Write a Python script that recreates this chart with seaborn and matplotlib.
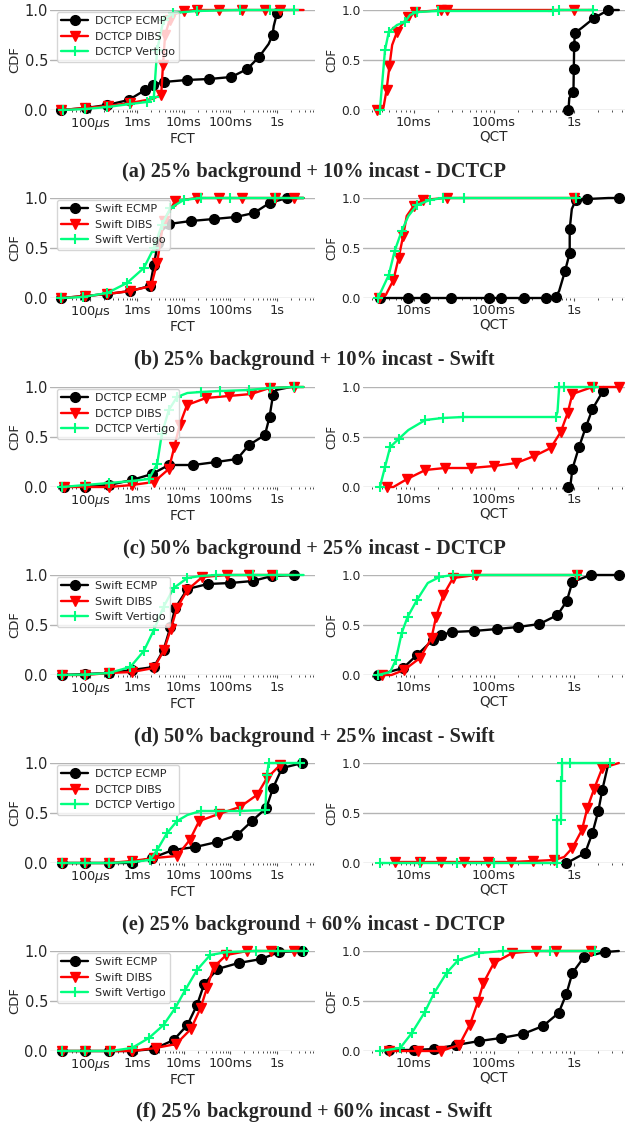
import matplotlib
matplotlib.use("Agg")
import matplotlib.pyplot as plt
from matplotlib.lines import Line2D
import seaborn as sns

sns.set_style("whitegrid")
plt.rcParams['font.family'] = ['DejaVu Sans']

# x values in seconds, y = CDF
# (a) 25% background + 10% incast - DCTCP
a_fct_ecmp_x = [2.4e-5, 8e-5, 2.3e-4, 6.6e-4, 1.5e-3, 2.2e-3, 3.7e-3, 1.15e-2, 3.5e-2, 0.105, 0.23, 0.41, 0.66, 0.8, 0.85, 1.0, 1.28]
a_fct_ecmp_y = [0, 0.02, 0.05, 0.1, 0.2, 0.25, 0.28, 0.3, 0.31, 0.33, 0.41, 0.53, 0.66, 0.75, 0.84, 0.97, 1.0]
a_fct_dibs_x = [2.4e-5, 7.8e-5, 2.35e-4, 7.2e-4, 2.1e-3, 3.3e-3, 3.6e-3, 4.0e-3, 5.0e-3, 6.6e-3, 1.0e-2, 1.9e-2, 5.6e-2, 0.18, 0.56, 1.17, 3.7]
a_fct_dibs_y = [0, 0.02, 0.04, 0.07, 0.11, 0.15, 0.45, 0.75, 0.9, 0.96, 0.99, 1.0, 1.0, 1.0, 1.0, 1.0, 1.0]
a_fct_vert_x = [2.6e-5, 7.8e-5, 2.3e-4, 7.2e-4, 1.6e-3, 2.3e-3, 2.7e-3, 3.7e-3, 6.0e-3, 1.9e-2, 0.16, 0.7, 2.3]
a_fct_vert_y = [0, 0.01, 0.03, 0.06, 0.08, 0.13, 0.6, 0.9, 0.97, 0.99, 1.0, 1.0, 1.0]
a_qct_ecmp_x = [0.85, 0.87, 0.98, 0.99, 1.0, 1.02, 1.24, 1.77, 2.67, 3.6]
a_qct_ecmp_y = [0, 0.12, 0.18, 0.41, 0.64, 0.77, 0.82, 0.92, 1.0, 1.0]
a_qct_dibs_x = [3.5e-3, 4.2e-3, 4.6e-3, 5.0e-3, 5.4e-3, 6.2e-3, 7.1e-3, 8.5e-3, 1.04e-2, 1.9e-2, 2.2e-2, 2.6e-2, 1.0, 1.7]
a_qct_dibs_y = [0, 0.02, 0.2, 0.44, 0.65, 0.78, 0.85, 0.93, 0.98, 0.995, 1.0, 1.0, 1.0, 1.0]
a_qct_vert_x = [3.8e-3, 4.4e-3, 4.9e-3, 6.2e-3, 7.8e-3, 9.0e-3, 1.1e-2, 2.0e-2, 0.54, 0.65, 1.7]
a_qct_vert_y = [0, 0.6, 0.78, 0.85, 0.88, 0.95, 0.98, 0.99, 0.99, 1.0, 1.0]

# (b) 25% background + 10% incast - Swift
b_fct_ecmp_x = [2.4e-5, 7.8e-5, 2.3e-4, 7.2e-4, 1.9e-3, 2.3e-3, 2.8e-3, 3.5e-3, 4.8e-3, 1.43e-2, 4.4e-2, 0.13, 0.32, 0.69, 1.63, 3.7]
b_fct_ecmp_y = [0, 0.02, 0.04, 0.07, 0.12, 0.33, 0.55, 0.68, 0.74, 0.77, 0.79, 0.81, 0.85, 0.95, 1.0, 1.0]
b_fct_dibs_x = [2.4e-5, 7.8e-5, 2.3e-4, 7.2e-4, 2.0e-3, 2.7e-3, 3.7e-3, 6.6e-3, 1.9e-2, 5.6e-2, 0.18, 0.92, 2.3, 3.7]
b_fct_dibs_y = [0, 0.02, 0.04, 0.07, 0.12, 0.35, 0.77, 0.97, 1.0, 1.0, 1.0, 1.0, 1.0, 1.0]
b_fct_vert_x = [2.4e-5, 7.0e-5, 2.3e-4, 6.1e-4, 1.4e-3, 2.3e-3, 3.4e-3, 5.2e-3, 1.0e-2, 2.3e-2, 0.1, 0.9, 3.7]
b_fct_vert_y = [0, 0.01, 0.05, 0.15, 0.3, 0.5, 0.73, 0.9, 0.98, 1.0, 1.0, 1.0, 1.0]
b_qct_ecmp_x = [3.8e-3, 8.6e-3, 1.38e-2, 2.95e-2, 8.7e-2, 0.123, 0.24, 0.45, 0.59, 0.65, 0.77, 0.88, 0.88, 0.935, 1.05, 1.46, 2.67, 3.6]
b_qct_ecmp_y = [0, 0, 0, 0, 0, 0, 0, 0, 0.015, 0.07, 0.27, 0.45, 0.69, 0.89, 0.98, 0.99, 1.0, 1.0]
b_qct_dibs_x = [3.7e-3, 4.5e-3, 5.6e-3, 6.5e-3, 7.4e-3, 8.2e-3, 1.0e-2, 1.3e-2, 2.45e-2, 2.6e-2, 1.0]
b_qct_dibs_y = [0, 0.03, 0.18, 0.4, 0.62, 0.82, 0.92, 0.98, 1.0, 1.0, 1.0]
b_qct_vert_x = [3.6e-3, 4.9e-3, 5.8e-3, 7.1e-3, 8.6e-3, 1.1e-2, 1.6e-2, 2.3e-2, 4.3e-2, 1.05]
b_qct_vert_y = [0, 0.23, 0.47, 0.67, 0.82, 0.93, 0.98, 1.0, 1.0, 1.0]

# (c) 50% background + 25% incast - DCTCP
c_fct_ecmp_x = [2.7e-5, 7.8e-5, 2.5e-4, 7.8e-4, 2.1e-3, 4.8e-3, 1.6e-2, 5.0e-2, 0.14, 0.25, 0.55, 0.69, 0.82, 0.95, 1.94]
c_fct_ecmp_y = [0, 0.005, 0.02, 0.07, 0.13, 0.22, 0.22, 0.25, 0.28, 0.42, 0.52, 0.70, 0.92, 0.97, 1.0]
c_fct_dibs_x = [2.7e-5, 7.8e-5, 2.5e-4, 7.8e-4, 2.3e-3, 4.8e-3, 6.3e-3, 8.2e-3, 1.18e-2, 3.0e-2, 9.2e-2, 0.28, 0.69, 2.3, 3.7]
c_fct_dibs_y = [0, 0, 0, 0.02, 0.05, 0.18, 0.4, 0.62, 0.82, 0.89, 0.91, 0.93, 0.99, 1.0, 1.0]
c_fct_vert_x = [2.5e-5, 7.8e-5, 2.5e-4, 7.8e-4, 1.8e-3, 2.7e-3, 3.4e-3, 4.8e-3, 7.2e-3, 1.2e-2, 2.3e-2, 6e-2, 0.25, 0.69, 2.3, 3.7]
c_fct_vert_y = [0, 0.02, 0.04, 0.06, 0.08, 0.23, 0.53, 0.77, 0.9, 0.94, 0.95, 0.96, 0.97, 0.99, 1.0, 1.0]
c_qct_ecmp_x = [0.83, 0.9, 0.95, 1.15, 1.4, 1.69, 2.29]
c_qct_ecmp_y = [0, 0.02, 0.18, 0.4, 0.6, 0.78, 0.96]
c_qct_dibs_x = [4.6e-3, 5.6e-3, 8.3e-3, 1.4e-2, 2.45e-2, 5.2e-2, 0.1, 0.19, 0.32, 0.51, 0.68, 0.83, 0.95, 1.69, 3.6]
c_qct_dibs_y = [0, 0, 0.08, 0.17, 0.19, 0.19, 0.21, 0.24, 0.31, 0.39, 0.55, 0.74, 0.93, 1.0, 1.0]
c_qct_vert_x = [3.8e-3, 4.4e-3, 5.1e-3, 6.5e-3, 8.6e-3, 1.4e-2, 2.3e-2, 4.1e-2, 0.59, 0.62, 0.65, 0.75, 1.77]
c_qct_vert_y = [0, 0.2, 0.4, 0.48, 0.57, 0.67, 0.69, 0.7, 0.7, 0.75, 1.0, 1.0, 1.0]

# (d) 50% background + 25% incast - Swift
d_fct_ecmp_x = [2.5e-5, 7.8e-5, 2.5e-4, 7.8e-4, 2.3e-3, 3.7e-3, 5.2e-3, 6.6e-3, 1.2e-2, 3.3e-2, 0.1, 0.3, 0.78, 2.3]
d_fct_ecmp_y = [0, 0.01, 0.02, 0.05, 0.08, 0.25, 0.48, 0.67, 0.86, 0.91, 0.92, 0.94, 0.99, 1.0]
d_fct_dibs_x = [2.5e-5, 7.8e-5, 2.5e-4, 7.8e-4, 2.3e-3, 3.8e-3, 5.3e-3, 7.2e-3, 1.2e-2, 2.5e-2, 8.5e-2, 0.25, 0.78, 2.3]
d_fct_dibs_y = [0, 0, 0.02, 0.03, 0.07, 0.25, 0.46, 0.67, 0.85, 0.98, 1.0, 1.0, 1.0, 1.0]
d_fct_vert_x = [2.5e-5, 7.8e-5, 2.5e-4, 7.2e-4, 1.4e-3, 2.3e-3, 3.7e-3, 6.1e-3, 1.2e-2, 2.3e-2, 5e-2, 0.3, 1.0, 3.7]
d_fct_vert_y = [0, 0.005, 0.02, 0.08, 0.24, 0.45, 0.68, 0.87, 0.97, 0.99, 1.0, 1.0, 1.0, 1.0]
d_qct_ecmp_x = [3.6e-3, 7.4e-3, 1.1e-2, 1.73e-2, 2.2e-2, 3.0e-2, 5.6e-2, 0.11, 0.2, 0.37, 0.62, 0.81, 0.95, 1.6, 3.6]
d_qct_ecmp_y = [0, 0.07, 0.2, 0.35, 0.4, 0.43, 0.44, 0.46, 0.48, 0.51, 0.6, 0.74, 0.93, 1.0, 1.0]
d_qct_dibs_x = [4.0e-3, 5.3e-3, 7.6e-3, 1.2e-2, 1.67e-2, 1.9e-2, 2.35e-2, 3.1e-2, 6.0e-2, 1.1]
d_qct_dibs_y = [0, 0, 0.05, 0.17, 0.37, 0.58, 0.8, 0.97, 1.0, 1.0]
d_qct_vert_x = [3.6e-3, 5.1e-3, 6.0e-3, 7.1e-3, 8.4e-3, 1.1e-2, 1.5e-2, 2.1e-2, 3.1e-2, 5.5e-2, 1.1]
d_qct_vert_y = [0, 0.03, 0.15, 0.42, 0.58, 0.75, 0.92, 0.98, 1.0, 1.0, 1.0]

# (e) 25% background + 60% incast - DCTCP
e_fct_ecmp_x = [2.5e-5, 7.8e-5, 2.5e-4, 7.8e-4, 2.1e-3, 5.9e-3, 1.78e-2, 5.2e-2, 0.14, 0.29, 0.59, 0.82, 1.28, 3.5]
e_fct_ecmp_y = [0, 0, 0, 0, 0.05, 0.13, 0.16, 0.21, 0.28, 0.42, 0.55, 0.75, 0.95, 1.0]
e_fct_dibs_x = [2.5e-5, 7.8e-5, 2.5e-4, 7.8e-4, 2.35e-3, 7.2e-3, 1.35e-2, 2.15e-2, 5.6e-2, 0.16, 0.37, 0.61, 1.17, 1.4]
e_fct_dibs_y = [0, 0, 0, 0.02, 0.05, 0.07, 0.23, 0.42, 0.49, 0.56, 0.68, 0.85, 0.98, 1.0]
e_fct_vert_x = [2.5e-5, 7.8e-5, 2.5e-4, 7.8e-4, 1.9e-3, 2.7e-3, 4.4e-3, 7.2e-3, 1.2e-2, 2.3e-2, 5e-2, 0.16, 0.56, 0.61, 0.66, 1.17, 3.1]
e_fct_vert_y = [0, 0, 0, 0.01, 0.03, 0.13, 0.3, 0.42, 0.48, 0.52, 0.52, 0.52, 0.53, 0.88, 1.0, 1.0, 1.0]
e_qct_ecmp_x = [0.79, 0.9, 1.37, 1.69, 2.0, 2.24, 2.59, 2.75]
e_qct_ecmp_y = [0, 0.02, 0.1, 0.3, 0.52, 0.73, 0.95, 1.0]
e_qct_dibs_x = [5.9e-3, 1.2e-2, 2.2e-2, 4.3e-2, 8.4e-2, 0.164, 0.31, 0.565, 0.75, 0.95, 1.25, 1.46, 1.77, 2.24, 3.6]
e_qct_dibs_y = [0.01, 0.01, 0.01, 0.01, 0.01, 0.01, 0.02, 0.03, 0.06, 0.15, 0.33, 0.55, 0.74, 0.95, 1.0]
e_qct_vert_x = [3.8e-3, 1.2e-2, 3.5e-2, 0.1, 0.62, 0.62, 0.69, 0.69, 0.71, 0.71, 0.9, 2.8]
e_qct_vert_y = [0, 0, 0, 0, 0, 0.43, 0.43, 0.82, 0.82, 1.0, 1.0, 1.0]

# (f) 25% background + 60% incast - Swift
f_fct_ecmp_x = [2.5e-5, 7.8e-5, 2.5e-4, 7.8e-4, 2.3e-3, 6.1e-3, 1.2e-2, 1.93e-2, 2.75e-2, 5.3e-2, 0.15, 0.46, 1.1, 3.5]
f_fct_ecmp_y = [0, 0, 0, 0, 0.02, 0.11, 0.26, 0.46, 0.67, 0.82, 0.88, 0.92, 0.99, 1.0]
f_fct_dibs_x = [2.5e-5, 7.8e-5, 2.7e-4, 8e-4, 2.5e-3, 6.9e-3, 1.43e-2, 2.3e-2, 3.15e-2, 4.4e-2, 8.2e-2, 0.23, 0.74, 2.3, 3.7]
f_fct_dibs_y = [0, 0, 0, 0, 0.03, 0.07, 0.22, 0.43, 0.63, 0.84, 0.96, 1.0, 1.0, 1.0, 1.0]
f_fct_vert_x = [2.5e-5, 7.8e-5, 2.7e-4, 7.8e-4, 1.8e-3, 3.7e-3, 6.6e-3, 1.08e-2, 1.93e-2, 3.7e-2, 8.5e-2, 0.35, 1.05, 3.7]
f_fct_vert_y = [0, 0, 0, 0.03, 0.13, 0.26, 0.43, 0.61, 0.81, 0.96, 0.99, 1.0, 1.0, 1.0]
f_qct_ecmp_x = [5e-3, 1e-2, 1.8e-2, 3.4e-2, 6.6e-2, 0.123, 0.23, 0.41, 0.64, 0.8, 0.95, 1.33, 2.42, 3.6]
f_qct_ecmp_y = [0.01, 0.01, 0.02, 0.06, 0.1, 0.13, 0.17, 0.25, 0.38, 0.57, 0.78, 0.94, 0.99, 1.0]
f_qct_dibs_x = [5e-3, 1.14e-2, 2.2e-2, 3.7e-2, 5e-2, 6.3e-2, 7.4e-2, 0.1, 0.17, 0.33, 0.6, 1.6]
f_qct_dibs_y = [0, 0, 0, 0.06, 0.26, 0.49, 0.68, 0.88, 0.98, 1.0, 1.0, 1.0]
f_qct_vert_x = [3.8e-3, 6.8e-3, 9.5e-3, 1.38e-2, 1.8e-2, 2.57e-2, 3.6e-2, 6.6e-2, 0.13, 0.5, 1.8]
f_qct_vert_y = [0, 0.03, 0.18, 0.39, 0.58, 0.78, 0.91, 0.98, 1.0, 1.0, 1.0]

schemes = ['ECMP', 'DIBS', 'Vertigo']
protocols = ['DCTCP', 'Swift', 'DCTCP', 'Swift', 'DCTCP', 'Swift']
captions = ['(a) 25% background + 10% incast - DCTCP',
            '(b) 25% background + 10% incast - Swift',
            '(c) 50% background + 25% incast - DCTCP',
            '(d) 50% background + 25% incast - Swift',
            '(e) 25% background + 60% incast - DCTCP',
            '(f) 25% background + 60% incast - Swift']
fct_ticks = [1e-4, 1e-3, 1e-2, 1e-1, 1]
fct_ticklabels = [r'100$\mu$s', '1ms', '10ms', '100ms', '1s']
qct_ticks = [1e-2, 1e-1, 1]
qct_ticklabels = ['10ms', '100ms', '1s']

fct_rows = [
    [(a_fct_ecmp_x, a_fct_ecmp_y), (a_fct_dibs_x, a_fct_dibs_y), (a_fct_vert_x, a_fct_vert_y)],
    [(b_fct_ecmp_x, b_fct_ecmp_y), (b_fct_dibs_x, b_fct_dibs_y), (b_fct_vert_x, b_fct_vert_y)],
    [(c_fct_ecmp_x, c_fct_ecmp_y), (c_fct_dibs_x, c_fct_dibs_y), (c_fct_vert_x, c_fct_vert_y)],
    [(d_fct_ecmp_x, d_fct_ecmp_y), (d_fct_dibs_x, d_fct_dibs_y), (d_fct_vert_x, d_fct_vert_y)],
    [(e_fct_ecmp_x, e_fct_ecmp_y), (e_fct_dibs_x, e_fct_dibs_y), (e_fct_vert_x, e_fct_vert_y)],
    [(f_fct_ecmp_x, f_fct_ecmp_y), (f_fct_dibs_x, f_fct_dibs_y), (f_fct_vert_x, f_fct_vert_y)],
]
qct_rows = [
    [(a_qct_ecmp_x, a_qct_ecmp_y), (a_qct_dibs_x, a_qct_dibs_y), (a_qct_vert_x, a_qct_vert_y)],
    [(b_qct_ecmp_x, b_qct_ecmp_y), (b_qct_dibs_x, b_qct_dibs_y), (b_qct_vert_x, b_qct_vert_y)],
    [(c_qct_ecmp_x, c_qct_ecmp_y), (c_qct_dibs_x, c_qct_dibs_y), (c_qct_vert_x, c_qct_vert_y)],
    [(d_qct_ecmp_x, d_qct_ecmp_y), (d_qct_dibs_x, d_qct_dibs_y), (d_qct_vert_x, d_qct_vert_y)],
    [(e_qct_ecmp_x, e_qct_ecmp_y), (e_qct_dibs_x, e_qct_dibs_y), (e_qct_vert_x, e_qct_vert_y)],
    [(f_qct_ecmp_x, f_qct_ecmp_y), (f_qct_dibs_x, f_qct_dibs_y), (f_qct_vert_x, f_qct_vert_y)],
]

colors = ['black', 'red', 'springgreen']
markers = ['o', 'v', '+']
mews = [1.0, 1.0, 1.5]

W, H = 628, 1131
row_tops = [10, 198, 387, 575, 763, 951]
caption_y = [172, 360, 549, 737, 925, 1112]


def draw_panel(ax, curves, xlim, ticks, ticklabels, xlabel, ytick_size, ylabel_size):
    for (xs, ys), color, marker, mew in zip(curves, colors, markers, mews):
        sns.lineplot(x=xs, y=ys, ax=ax, estimator=None, sort=False, color=color,
                     marker=marker, markersize=7, markeredgecolor=color,
                     markeredgewidth=mew, markevery=0.07, linewidth=1.7,
                     clip_on=False)
    ax.set_xscale('log')
    ax.set_xlim(*xlim)
    ax.set_ylim(0, 1)
    ax.set_yticks([0, 0.5, 1.0])
    ax.set_yticklabels(['0.0', '0.5', '1.0'])
    ax.set_xticks(ticks)
    ax.set_xticklabels(ticklabels)
    ax.grid(axis='x', visible=False)
    ax.grid(axis='y', color='#b4b4b4', linewidth=1.0)
    for s in ax.spines.values():
        s.set_visible(False)
    ax.tick_params(axis='x', which='major', length=2.5, width=0.8, color='0.3',
                   direction='out', bottom=True, labelsize=9.3, pad=2)
    ax.tick_params(axis='x', which='minor', length=1.6, width=0.7, color='0.3',
                   direction='out', bottom=True)
    ax.tick_params(axis='y', length=0, labelsize=ytick_size, pad=1.5)
    ax.set_xlabel(xlabel, fontsize=9.8, labelpad=0)
    ax.set_ylabel('CDF', fontsize=ylabel_size, labelpad=2.5)


fig = plt.figure(figsize=(W / 100, H / 100), dpi=100)

for i in range(6):
    bottom = 1 - (row_tops[i] + 100) / H
    ax_l = fig.add_axes([50 / W, bottom, 265 / W, 100 / H])
    ax_r = fig.add_axes([363 / W, bottom, 262 / W, 100 / H])
    draw_panel(ax_l, fct_rows[i], (1.37e-5, 6.5), fct_ticks, fct_ticklabels, 'FCT', 10.5, 9.5)
    draw_panel(ax_r, qct_rows[i], (2.34e-3, 4.3), qct_ticks, qct_ticklabels, 'QCT', 8.8, 8.5)

    handles = [Line2D([], [], color=c, marker=m, markersize=7, markeredgecolor=c,
                      markeredgewidth=w, linewidth=1.7)
               for c, m, w in zip(colors, markers, mews)]
    labels = [protocols[i] + ' ' + s for s in schemes]
    ax_l.legend(handles, labels, loc='upper left', bbox_to_anchor=(0.02, 1.0),
                borderaxespad=0.15, fontsize=8, frameon=True, framealpha=0.8,
                edgecolor='0.8', handlelength=2.4, handletextpad=0.6)

    fig.text(0.5, 1 - caption_y[i] / H, captions[i], ha='center', va='center',
             fontsize=14.6, fontweight='bold', family=['Liberation Serif', 'DejaVu Serif'])

fig.savefig('out.png', dpi=100)
